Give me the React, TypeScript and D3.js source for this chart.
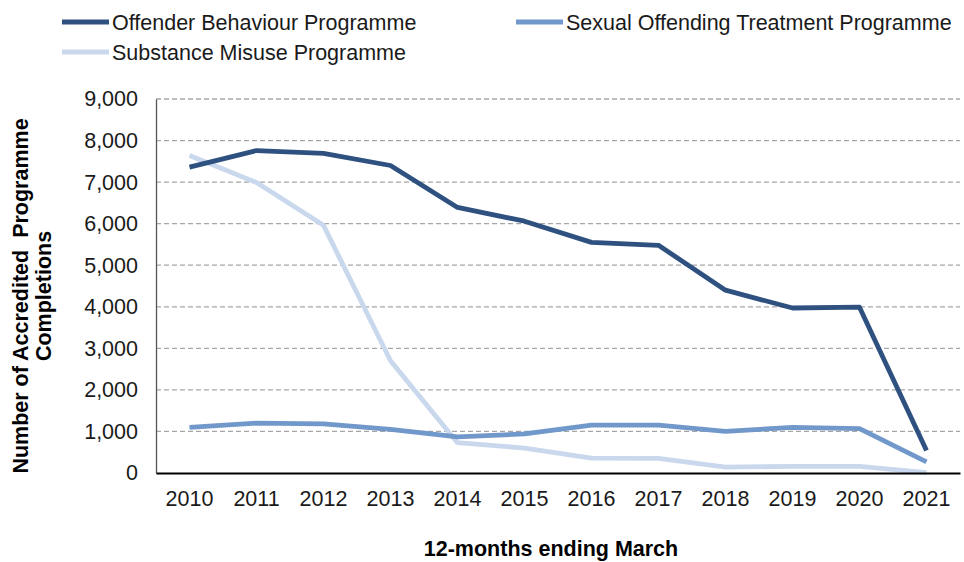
import React, { useEffect, useRef } from 'react';
import * as d3 from 'd3';

const years = ['2010', '2011', '2012', '2013', '2014', '2015', '2016', '2017', '2018', '2019', '2020', '2021'];
const offender = [7360, 7760, 7690, 7400, 6390, 6060, 5550, 5480, 4400, 3970, 3990, 540];
const sexual = [1100, 1200, 1180, 1050, 870, 940, 1150, 1150, 1000, 1100, 1070, 270];
const substance = [7640, 6990, 5960, 2700, 730, 600, 360, 350, 140, 160, 160, 10];
const yTicks = [0, 1000, 2000, 3000, 4000, 5000, 6000, 7000, 8000, 9000];

const seriesList = [
  { name: 'Offender Behaviour Programme', values: offender, color: '#2E5180' },
  { name: 'Sexual Offending Treatment Programme', values: sexual, color: '#7198CA' },
  { name: 'Substance Misuse Programme', values: substance, color: '#C9D8EC' },
];

export default function App() {
  const ref = useRef<SVGSVGElement>(null);

  useEffect(() => {
    const svg = d3.select(ref.current);
    svg.selectAll('*').remove();

    const width = 964;
    const height = 562;
    const margin = { top: 99, left: 156, bottom: 89, right: 4 };
    const iwidth = width - margin.left - margin.right;
    const iheight = height - margin.top - margin.bottom;
    const font = 'Liberation Sans, Arial, sans-serif';
    const fs = 21.5;

    const g = svg.append('g').attr('transform', `translate(${margin.left},${margin.top})`);

    const x = d3.scaleBand().domain(years).range([0, iwidth]);
    const y = d3.scaleLinear().domain([0, 9000]).range([iheight, 0]);

    // grid
    g.selectAll('line.grid')
      .data(yTicks.filter(t => t > 0))
      .enter().append('line')
      .attr('class', 'grid')
      .attr('x1', 0).attr('x2', iwidth)
      .attr('y1', d => y(d)).attr('y2', d => y(d))
      .attr('stroke', '#A6A6A6')
      .attr('stroke-width', 1.3)
      .attr('stroke-dasharray', '5,3');

    // y axis
    const yAxis = g.append('g').call(d3.axisLeft(y).tickValues(yTicks).tickSize(0).tickPadding(18).tickFormat(d3.format(',')));
    yAxis.select('.domain').attr('stroke', '#555').attr('stroke-width', 1.3);
    yAxis.selectAll('text').attr('font-family', font).attr('font-size', fs).attr('fill', '#1a1a1a');

    // lines
    const line = d3.line<number>()
      .x((_, i) => (x(years[i]) as number) + x.bandwidth() / 2)
      .y(d => y(d));

    seriesList.slice().reverse().forEach(s => {
      g.append('path')
        .datum(s.values)
        .attr('d', line)
        .attr('fill', 'none')
        .attr('stroke', s.color)
        .attr('stroke-width', 4.8)
        .attr('stroke-linejoin', 'round');
    });

    // x axis
    const xAxis = g.append('g')
      .attr('transform', `translate(0,${iheight})`)
      .call(d3.axisBottom(x).tickSize(0).tickPadding(18));
    xAxis.select('.domain').attr('stroke', '#000').attr('stroke-width', 2);
    xAxis.selectAll('text').attr('font-family', font).attr('font-size', fs).attr('fill', '#1a1a1a');

    // axis titles
    svg.append('text')
      .attr('x', 551).attr('y', 556)
      .attr('text-anchor', 'middle')
      .attr('font-family', font).attr('font-size', fs).attr('font-weight', 'bold')
      .text('12-months ending March');

    const yt = svg.append('text')
      .attr('transform', 'translate(0,296) rotate(-90)')
      .attr('text-anchor', 'middle')
      .attr('font-family', font).attr('font-size', fs).attr('font-weight', 'bold');
    yt.append('tspan').attr('x', 0).attr('y', 28).attr('xml:space', 'preserve').text('Number of Accredited  Programme');
    yt.append('tspan').attr('x', 0).attr('y', 51).text('Completions');

    // legend
    const legendPos = [
      { x: 62, y: 22 },
      { x: 516, y: 22 },
      { x: 62, y: 52 },
    ];
    seriesList.forEach((s, i) => {
      const p = legendPos[i];
      svg.append('line')
        .attr('x1', p.x).attr('x2', p.x + 47)
        .attr('y1', p.y).attr('y2', p.y)
        .attr('stroke', s.color).attr('stroke-width', 4.8);
      svg.append('text')
        .attr('x', p.x + 50).attr('y', p.y + 8)
        .attr('font-family', font).attr('font-size', fs).attr('fill', '#1a1a1a')
        .text(s.name);
    });
  }, []);

  return (
    <svg ref={ref} width={964} height={562} style={{ display: 'block', position: 'absolute', left: 0, top: 0 }} />
  );
}
